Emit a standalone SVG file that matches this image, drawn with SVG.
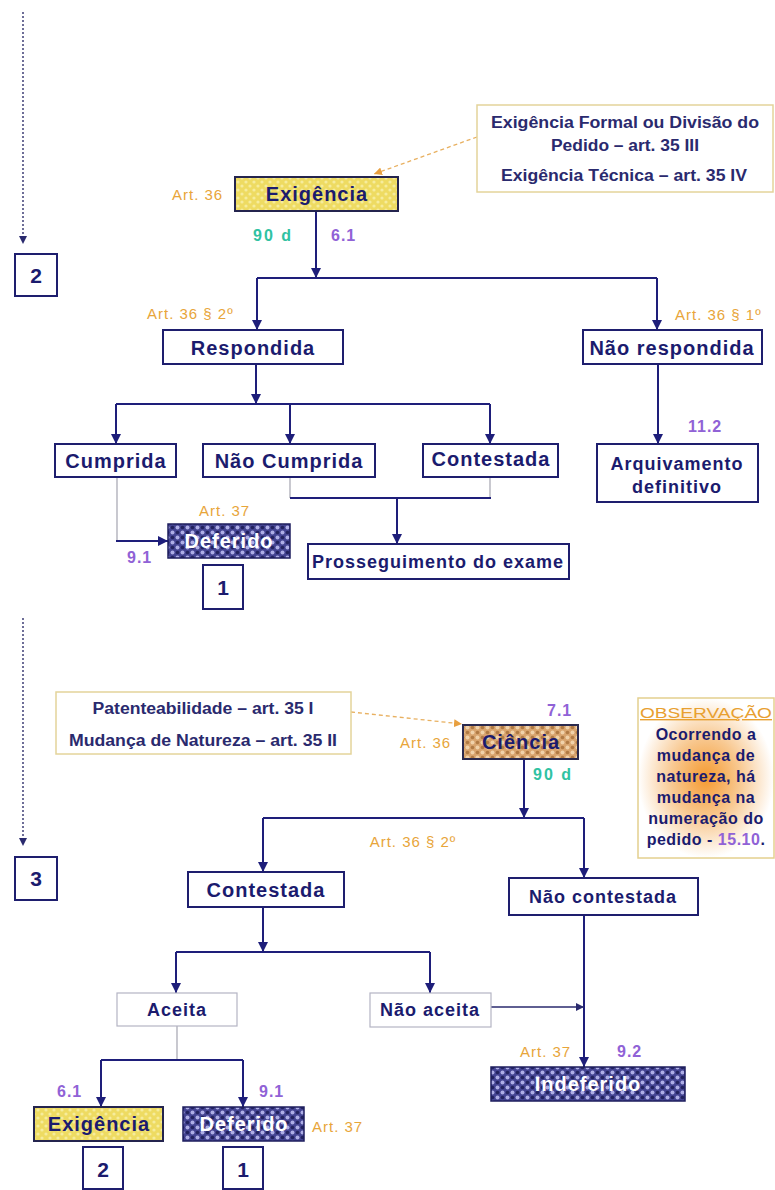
<svg xmlns="http://www.w3.org/2000/svg" width="775" height="1190" viewBox="0 0 775 1190">
<style>
.box{fill:#fff;stroke:#1e1e6e;stroke-width:2}
.gbox{fill:#fff;stroke:#b4b4c4;stroke-width:1.2}
.note{fill:#fff;stroke:#e4d49a;stroke-width:1.5}
.t{font-family:"Liberation Sans",Arial,sans-serif;font-weight:bold;fill:#1b1b6e;text-anchor:middle;letter-spacing:1px}
.t20{font-size:20px}
.t18{font-size:18px}
.w{fill:#ffffff}
.nt{font-family:"Liberation Sans",Arial,sans-serif;font-size:16px;font-weight:bold;fill:#2a2a6e;text-anchor:middle}
.art{font-family:"Liberation Sans",Arial,sans-serif;font-size:15px;fill:#e8a53a;letter-spacing:1px}
.num{font-family:"Liberation Sans",Arial,sans-serif;font-size:16px;font-weight:bold;fill:#9062d6;letter-spacing:1px}
.days{font-family:"Liberation Sans",Arial,sans-serif;font-size:16px;font-weight:bold;fill:#30c2a2;letter-spacing:2px}
.dig{font-family:"Liberation Sans",Arial,sans-serif;font-size:21px;font-weight:bold;fill:#1b1b6e;text-anchor:middle}
.c{stroke:#1e1e7a;stroke-width:2;fill:none}
.thin{stroke:#a4a4b0;stroke-width:1.2;fill:none}
.dot{stroke:#4a4a7e;stroke-width:1.6;stroke-dasharray:2 2;fill:none}
.odash{stroke:#e8b060;stroke-width:1.3;stroke-dasharray:4 3;fill:none}
.obs{font-family:"Liberation Sans",Arial,sans-serif;font-size:16px;font-weight:bold;fill:#1b1b6e;text-anchor:middle;letter-spacing:0.5px}
</style>
<defs>
<marker id="ah" viewBox="0 0 10 10" refX="10" refY="5" markerWidth="10" markerHeight="10" markerUnits="userSpaceOnUse" orient="auto"><path d="M0,0 L10,5 L0,10 z" fill="#1e1e7a"/></marker>
<marker id="ahs" viewBox="0 0 10 10" refX="10" refY="5" markerWidth="8" markerHeight="8" markerUnits="userSpaceOnUse" orient="auto"><path d="M0,0 L10,5 L0,10 z" fill="#2a2a6e"/></marker>
<marker id="aho" viewBox="0 0 10 10" refX="10" refY="5" markerWidth="8" markerHeight="8" markerUnits="userSpaceOnUse" orient="auto"><path d="M0,0 L10,5 L0,10 z" fill="#e8a040"/></marker>
<pattern id="navy" width="10" height="10" patternUnits="userSpaceOnUse">
<rect width="10" height="10" fill="#444492"/>
<circle cx="2.5" cy="2.5" r="2" fill="#aeaee6"/>
<circle cx="7.5" cy="7.5" r="2" fill="#aeaee6"/>
<circle cx="7.5" cy="2.5" r="1.8" fill="#22225e"/>
<circle cx="2.5" cy="7.5" r="1.8" fill="#22225e"/>
</pattern>
<pattern id="tan" width="10" height="10" patternUnits="userSpaceOnUse">
<rect width="10" height="10" fill="#d8a46e"/>
<circle cx="2.5" cy="2.5" r="2" fill="#f0d2aa"/>
<circle cx="7.5" cy="7.5" r="2" fill="#f0d2aa"/>
<circle cx="7.5" cy="2.5" r="1.8" fill="#b07a44"/>
<circle cx="2.5" cy="7.5" r="1.8" fill="#b07a44"/>
</pattern>
<pattern id="yel" width="8" height="8" patternUnits="userSpaceOnUse">
<rect width="8" height="8" fill="#eedb62"/>
<circle cx="2" cy="2" r="1.6" fill="#f6ec9c"/>
<circle cx="6" cy="6" r="1.6" fill="#f6ec9c"/>
</pattern>
<radialGradient id="glow" cx="0.5" cy="0.5" r="0.5">
<stop offset="0" stop-color="#f59a30"/>
<stop offset="0.5" stop-color="#f8c890"/>
<stop offset="1" stop-color="#ffffff"/>
</radialGradient>
</defs>
<rect width="775" height="1190" fill="#ffffff"/>

<g id="connectors">
<line class="dot" x1="23" y1="12" x2="23" y2="244" marker-end="url(#ahs)"/>
<line class="dot" x1="23" y1="618" x2="23" y2="846" marker-end="url(#ahs)"/>
<line class="odash" x1="477" y1="137" x2="374" y2="174" marker-end="url(#aho)"/>
<line class="odash" x1="351" y1="712" x2="462" y2="724" marker-end="url(#aho)"/>
<line class="c" x1="316" y1="211" x2="316" y2="278" marker-end="url(#ah)"/>
<polyline class="c" points="257,278 657,278"/>
<line class="c" x1="257" y1="278" x2="257" y2="330" marker-end="url(#ah)"/>
<line class="c" x1="657" y1="278" x2="657" y2="330" marker-end="url(#ah)"/>
<line class="c" x1="256" y1="364" x2="256" y2="404" marker-end="url(#ah)"/>
<polyline class="c" points="116,404 490,404"/>
<line class="c" x1="116" y1="404" x2="116" y2="444" marker-end="url(#ah)"/>
<line class="c" x1="290" y1="404" x2="290" y2="444" marker-end="url(#ah)"/>
<line class="c" x1="490" y1="404" x2="490" y2="444" marker-end="url(#ah)"/>
<line class="c" x1="658" y1="364" x2="658" y2="444" marker-end="url(#ah)"/>
<line class="thin" x1="290" y1="477" x2="290" y2="498"/>
<line class="thin" x1="490" y1="477" x2="490" y2="498"/>
<polyline class="c" points="290,498 491,498"/>
<line class="c" x1="397" y1="498" x2="397" y2="544" marker-end="url(#ah)"/>
<line class="thin" x1="117" y1="477" x2="117" y2="541"/>
<line class="c" x1="116" y1="541" x2="168" y2="541" marker-end="url(#ah)"/>
<line class="c" x1="524" y1="759" x2="524" y2="818" marker-end="url(#ah)"/>
<polyline class="c" points="263,818 584,818"/>
<line class="c" x1="263" y1="818" x2="263" y2="872" marker-end="url(#ah)"/>
<line class="c" x1="584" y1="818" x2="584" y2="878" marker-end="url(#ah)"/>
<line class="c" x1="263" y1="907" x2="263" y2="952" marker-end="url(#ah)"/>
<polyline class="c" points="176,952 430,952"/>
<line class="c" x1="176" y1="952" x2="176" y2="993" marker-end="url(#ah)"/>
<line class="c" x1="430" y1="952" x2="430" y2="993" marker-end="url(#ah)"/>
<line class="c" x1="584" y1="915" x2="584" y2="1067" marker-end="url(#ah)"/>
<line x1="491" y1="1007" x2="584" y2="1007" stroke="#2a2a6e" stroke-width="1.3" marker-end="url(#ahs)"/>
<line class="thin" x1="177" y1="1026" x2="177" y2="1060"/>
<polyline class="c" points="101,1060 243,1060"/>
<line class="c" x1="101" y1="1060" x2="101" y2="1107" marker-end="url(#ah)"/>
<line class="c" x1="243" y1="1060" x2="243" y2="1107" marker-end="url(#ah)"/>
</g>

<g id="ref2a"><rect class="box" x="15" y="254" width="42" height="42"/><text class="dig" x="36" y="283">2</text></g>
<g id="exigencia1">
<rect x="235" y="177" width="163" height="34" fill="url(#yel)" stroke="#24244e" stroke-width="2"/>
<text class="t t20" x="317" y="201">Exigência</text>
<text class="art" x="172" y="200">Art. 36</text>
<text class="days" x="253" y="241">90 d</text>
<text class="num" x="331" y="241">6.1</text>
</g>
<g id="nota1">
<rect class="note" x="477" y="105" width="296" height="87"/>
<text class="nt" x="625" y="128" textLength="268" lengthAdjust="spacingAndGlyphs">Exigência Formal ou Divisão do</text>
<text class="nt" x="625" y="151" textLength="148" lengthAdjust="spacingAndGlyphs">Pedido – art. 35 III</text>
<text class="nt" x="624" y="181" textLength="246" lengthAdjust="spacingAndGlyphs">Exigência Técnica – art. 35 IV</text>
</g>
<g id="respondida">
<rect class="box" x="163" y="330" width="180" height="34"/>
<text class="t t20" x="253" y="355">Respondida</text>
<text class="art" x="147" y="319">Art. 36 § 2º</text>
</g>
<g id="naorespondida">
<rect class="box" x="583" y="330" width="179" height="34"/>
<text class="t t20" x="672" y="355">Não respondida</text>
<text class="art" x="675" y="320">Art. 36 § 1º</text>
</g>
<g id="cumprida"><rect class="box" x="55" y="444" width="121" height="33"/><text class="t t20" x="116" y="468">Cumprida</text></g>
<g id="naocumprida"><rect class="box" x="203" y="444" width="172" height="33"/><text class="t t20" x="289" y="468">Não Cumprida</text></g>
<g id="contestada1"><rect class="box" x="423" y="444" width="135" height="33"/><text class="t t20" x="491" y="466">Contestada</text></g>
<g id="arquivamento">
<rect class="box" x="597" y="444" width="161" height="58"/>
<text class="t t18" x="677" y="470">Arquivamento</text>
<text class="t t18" x="677" y="493">definitivo</text>
<text class="num" x="688" y="432">11.2</text>
</g>
<g id="deferido1">
<rect x="168" y="524" width="122" height="34" fill="url(#navy)" stroke="#1e1e5e" stroke-width="1.5"/>
<text class="t t20 w" x="229" y="548">Deferido</text>
<text class="art" x="199" y="516">Art. 37</text>
<text class="num" x="127" y="563">9.1</text>
</g>
<g id="ref1a"><rect class="box" x="203" y="565" width="40" height="44"/><text class="dig" x="223" y="595">1</text></g>
<g id="prosseguimento"><rect class="box" x="308" y="544" width="261" height="35"/><text class="t t18" x="438" y="568">Prosseguimento do exame</text></g>

<g id="ref3"><rect class="box" x="15" y="857" width="42" height="43"/><text class="dig" x="36" y="886">3</text></g>
<g id="nota2">
<rect class="note" x="56" y="692" width="295" height="62"/>
<text class="nt" x="203" y="714" textLength="221" lengthAdjust="spacingAndGlyphs">Patenteabilidade – art. 35 I</text>
<text class="nt" x="203" y="746" textLength="268" lengthAdjust="spacingAndGlyphs">Mudança de Natureza – art. 35 II</text>
</g>
<g id="ciencia">
<rect x="463" y="725" width="115" height="34" fill="url(#tan)" stroke="#2a2a4e" stroke-width="2"/>
<text class="t t20" x="521" y="749">Ciência</text>
<text class="art" x="400" y="748">Art. 36</text>
<text class="num" x="547" y="716">7.1</text>
<text class="days" x="533" y="780">90 d</text>
<text class="art" x="413" y="847" text-anchor="middle">Art. 36 § 2º</text>
</g>
<g id="observacao">
<rect x="638" y="698" width="136" height="160" fill="url(#glow)" stroke="#e4d08e" stroke-width="1.5"/>
<text x="706" y="718" text-anchor="middle" font-family="Liberation Sans, Arial, sans-serif" font-size="14" fill="#e8a030" text-decoration="underline" textLength="132" lengthAdjust="spacingAndGlyphs">OBSERVAÇÃO</text>
<text class="obs" x="706" y="740">Ocorrendo a</text>
<text class="obs" x="706" y="761">mudança de</text>
<text class="obs" x="706" y="782">natureza, há</text>
<text class="obs" x="706" y="803">mudança  na</text>
<text class="obs" x="706" y="824">numeração do</text>
<text class="obs" x="706" y="845">pedido - <tspan fill="#9062d6">15.10</tspan>.</text>
</g>
<g id="contestada2"><rect class="box" x="188" y="872" width="156" height="35"/><text class="t t20" x="266" y="897">Contestada</text></g>
<g id="naocontestada"><rect class="box" x="509" y="878" width="189" height="37"/><text class="t t18" x="603" y="903">Não contestada</text></g>
<g id="aceita"><rect class="gbox" x="117" y="993" width="120" height="33"/><text class="t t18" x="177" y="1016">Aceita</text></g>
<g id="naoaceita"><rect class="gbox" x="370" y="993" width="121" height="34"/><text class="t t18" x="430" y="1016">Não aceita</text></g>
<g id="indeferido">
<rect x="491" y="1067" width="194" height="34" fill="url(#navy)" stroke="#1e1e5e" stroke-width="1.5"/>
<text class="t t20 w" x="588" y="1091">Indeferido</text>
<text class="art" x="520" y="1057">Art. 37</text>
<text class="num" x="617" y="1057">9.2</text>
</g>
<g id="exigencia2">
<rect x="34" y="1107" width="129" height="34" fill="url(#yel)" stroke="#24244e" stroke-width="2"/>
<text class="t t20" x="99" y="1131">Exigência</text>
<text class="num" x="57" y="1097">6.1</text>
</g>
<g id="deferido2">
<rect x="183" y="1107" width="121" height="34" fill="url(#navy)" stroke="#1e1e5e" stroke-width="1.5"/>
<text class="t t20 w" x="244" y="1131">Deferido</text>
<text class="num" x="259" y="1097">9.1</text>
<text class="art" x="312" y="1132">Art. 37</text>
</g>
<g id="ref2b"><rect class="box" x="83" y="1147" width="40" height="42"/><text class="dig" x="103" y="1177">2</text></g>
<g id="ref1b"><rect class="box" x="223" y="1147" width="40" height="42"/><text class="dig" x="243" y="1177">1</text></g>
</svg>
